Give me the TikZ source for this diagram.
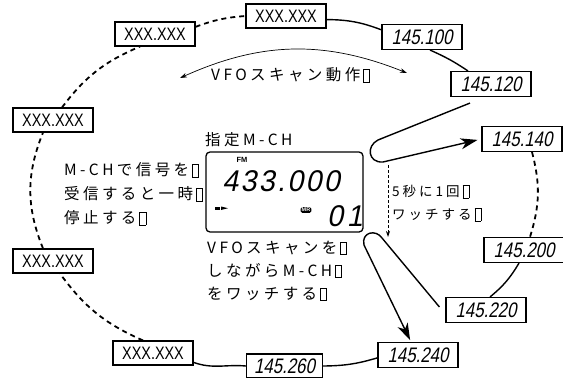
\documentclass[tikz,border=0pt]{standalone}
\usepackage{fontspec}
\usetikzlibrary{arrows.meta, positioning}
\setmainfont{Noto Sans CJK JP}
\newfontfamily\jpfont[LetterSpace=22]{Noto Sans CJK JP}
\newfontfamily\lcdfont[FakeSlant=0.2, FakeStretch=0.8]{Liberation Sans}
\newfontfamily\bigdigitfont[FakeSlant=0.2, FakeStretch=0.95, LetterSpace=8]{Liberation Sans}
\newfontfamily\xxxfont[FakeStretch=0.8]{Liberation Sans}
\newfontfamily\badgefont{Liberation Sans}
% box for the glyph that the printed text lacks
\newcommand{\tofu}{\kern3pt\raisebox{-1pt}{\setlength{\fboxsep}{0pt}\setlength{\fboxrule}{0.6pt}\fbox{\rule{0pt}{12pt}\kern5.5pt}}}

\begin{document}
\begin{tikzpicture}[x=1pt, y=-1pt,
    freqbox/.style={draw, line width=1.1pt, minimum width=80pt, minimum height=25pt,
                    inner sep=0pt, font=\lcdfont\fontsize{21}{21}\selectfont},
    xbox/.style={draw, line width=1.1pt, minimum width=80pt, minimum height=24pt,
                 inner sep=0pt, font=\xxxfont\fontsize{18}{18}\selectfont},
    link/.style={line width=1.4pt},
    skip/.style={line width=1.8pt, dash pattern=on 5pt off 4pt},
    jtext/.style={align=left, anchor=west, inner sep=0pt, font=\jpfont\fontsize{15.5}{24}\selectfont},
    bigtip/.style={-{Stealth[length=17pt, width=11pt, inset=5pt]}}
]
    \useasboundingbox (0,0) rectangle (563,378);

    % channel boxes round the scan
    \node[xbox] (xa) at (155,34) {XXX.XXX};
    \node[xbox] (xb) at (286,16) {XXX.XXX};
    \node[freqbox] (f100) at (422,37) {145.100};
    \node[freqbox] (f120) at (491,84) {145.120};
    \node[freqbox] (f140) at (522,139) {145.140};
    \node[freqbox] (f200) at (524,250) {145.200};
    \node[freqbox] (f220) at (486,310) {145.220};
    \node[freqbox] (f240) at (418,355) {145.240};
    \node[freqbox, minimum width=76pt, minimum height=24pt] (f260) at (284.5,366) {145.260};
    \node[xbox] (xc) at (153,353) {XXX.XXX};
    \node[xbox] (xd) at (53,261) {XXX.XXX};
    \node[xbox] (xe) at (53,120) {XXX.XXX};

    % display
    \node[draw, line width=1.3pt, rounded corners=4pt, minimum width=157pt,
          minimum height=80pt] (lcd) at (284.5,192) {};
    \node[font=\badgefont\bfseries\fontsize{7.5}{7.5}\selectfont, inner sep=0pt] (fm) at (242,160) {FM};
    \node[font=\bigdigitfont\fontsize{30}{30}\selectfont, inner sep=0pt] (freq) at (281,181) {433.000};
    \node[fill=black, text=white, rounded corners=1.5pt, inner sep=1pt,
          font=\badgefont\bfseries\fontsize{5.5}{5.5}\selectfont] (mr) at (306,210) {MR};
    \node[font=\bigdigitfont\fontsize{30}{30}\selectfont, inner sep=0pt] (chno) at (345,216) {0\kern4pt1};
    \fill (215,206.5) rectangle (220,210);
    \fill (221,206.5) -- (228,208.2) -- (221,210) -- cycle;

    % labels
    \node[jtext] (title) at (205,140) {指定M-CH};
    \node[jtext] (scanlabel) at (211,75) {VFOスキャン動作\tofu};
    \node[jtext] (holdnote) at (64,194) {M-CHで信号を\tofu\\受信すると一時\tofu\\停止する\tofu};
    \node[jtext, font=\jpfont\fontsize{15.5}{23}\selectfont] (watchnote) at (207,271)
        {VFOスキャンを\tofu\\しながらM-CH\tofu\\をワッチする\tofu};
    \node[jtext, font=\jpfont\fontsize{13.5}{23}\selectfont] (everyfive) at (392,203)
        {5秒に1回\tofu\\ワッチする\tofu};

    % scan direction
    \coordinate (scanL) at (180,78);
    \coordinate (scanR) at (407,73);
    \draw[line width=0.7pt, {Stealth[length=7pt, width=4.5pt]}-{Stealth[length=7pt, width=4.5pt]}]
        (scanL) to[bend left=23] (scanR);

    % ring of channels
    \draw[skip] (xa.10) to[bend left=8] (xb.west);
    \draw[link] (xb.-5) to[bend left=10] (f100.170);
    \draw[link] ([xshift=8pt]f100.south) to[bend left=5] ([xshift=-23pt]f120.north);
    \draw[link, bigtip, shorten >=4pt] ([xshift=-21pt, yshift=-6pt]f120.south) -- (378,140)
        .. controls (366,146) and (368,163) .. (383,162) -- (f140.west);
    \draw[skip] ([xshift=10pt]f140.south) to[bend left=16] ([xshift=6pt]f200.north);
    \draw[link] ([xshift=-5pt]f200.south) to[bend left=10] ([xshift=4pt]f220.north);
    \draw[link, bigtip, shorten >=2pt] ([xshift=-6pt, yshift=3pt]f220.west) -- (382,238)
        .. controls (376,229) and (361,232) .. (364,245) -- ([xshift=-7pt]f240.north);
    \draw[link] (f240.-176) to[bend left=8] (f260.east);
    \draw[link] (f260.west) to[out=175, in=-20] (xc.-13);
    \draw[skip] ([xshift=-10pt]xc.north) to[bend left=15] ([xshift=7pt]xd.south);
    \draw[skip] ([xshift=-10pt]xd.north) to[bend left=22] ([xshift=-10pt]xe.south);
    \draw[skip] ([xshift=9pt]xe.north) to[bend left=15] ([xshift=-15pt]xa.south);

    % watch every five seconds
    \coordinate (watchtop) at (388,165);
    \coordinate (watchbot) at (388,237);
    \draw[line width=0.8pt, dash pattern=on 3pt off 2pt, -{Stealth[length=6pt, width=4pt]}]
        (watchtop) -- (watchbot);
\end{tikzpicture}
\end{document}
